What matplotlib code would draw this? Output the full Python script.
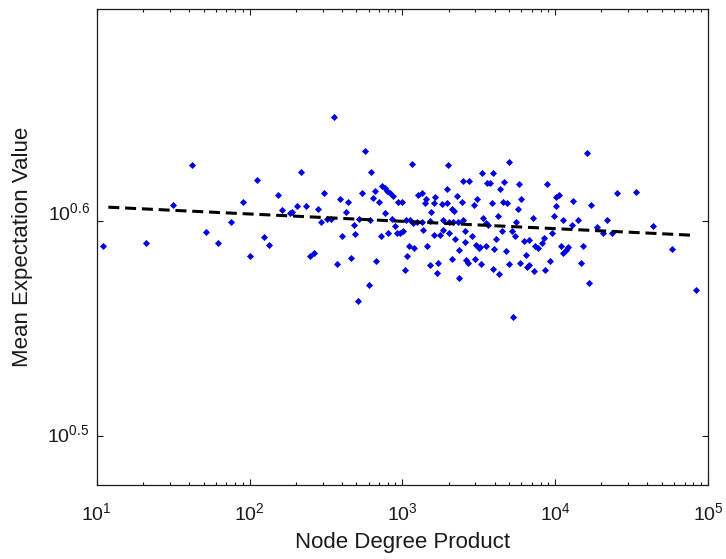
import matplotlib
matplotlib.use("Agg")
import matplotlib.pyplot as plt
from matplotlib.ticker import LogLocator, NullFormatter, FixedLocator, FixedFormatter
from matplotlib.transforms import ScaledTranslation

plt.rcParams['font.family'] = ['Liberation Sans', 'DejaVu Sans']
plt.rcParams['mathtext.fontset'] = 'custom'
plt.rcParams['mathtext.rm'] = 'Liberation Sans'

# Node degree product (x) and mean expectation value (y)
degree = [11.05, 20.92, 31.7, 41.8, 51.6, 62.4, 75.9, 90.1, 100.2, 111.3,
          123.7, 134.5, 152.7, 162.9, 184.6, 189.4, 205.1, 217.8,
          233.9, 248.3, 263.7, 282.2, 294.4, 307.5, 322.2, 340.7, 358.1, 372.9,
          390.1, 405.1, 424.0, 441.6, 460.6, 481.8, 490.6, 511.7, 545.9, 570.2,
          521.9, 613.1, 606.7, 619.4, 646.1, 662.8, 673.9, 705.1, 720.1,
          731.1, 768.5, 795.5, 828.4, 863.0,
          768.5, 807.5, 850.1, 893.3, 916.4, 962.9, 938.6, 988.1, 1012, 1031,
          1054, 1075, 1103, 1119, 1149, 1177, 1195, 1239, 1269,
          1993, 4950, 3311, 3907, 2498, 2735, 3553, 3734, 4632, 5754,
          1963, 4341, 1336, 1425, 1397, 1639, 1614, 2262, 3057, 2935,
          2461, 3848, 4521, 4846, 5984, 1805, 1946, 2107, 2172, 5718,
          1543, 4193, 7104, 1336, 1513, 1849, 2024, 2149, 2317, 2498,
          3346, 3516, 3640, 5524, 1356, 1849, 2024, 2563, 4454, 5178,
          5442, 1607, 1759, 2215, 2848, 4087, 2551, 6232, 6689, 1440,
          3025, 3150, 3212, 3516, 3984, 7388, 7695, 2352, 4752, 6422,
          2117, 2602, 2694, 2966, 1699, 1513, 3246, 4994, 5868, 6750,
          6549, 1674, 3907, 4276, 7278, 2352,
          8810, 10040, 10600, 13090, 16020, 17020, 25410, 33500, 10140,
          9748, 11160, 13990, 12840, 9500, 18790, 21840, 20570, 23340,
          43290, 10880, 12030, 11680, 11260, 15220, 8386, 8137, 9220,
          8590, 14640, 16590, 58160, 83450, 5304]

expect = [3.879, 3.890, 4.052, 4.228, 3.937, 3.890, 3.978, 4.065, 3.837, 4.163,
          3.914, 3.883, 4.095, 4.029, 4.016, 4.023, 4.046, 4.196,
          4.047, 3.837, 3.848, 4.034, 3.980, 4.102, 3.991, 3.991, 4.451, 3.803,
          4.077, 3.919, 4.023, 4.065, 3.826, 3.966, 3.926, 3.656, 4.102, 4.291,
          3.991, 3.987, 3.717, 4.196, 4.084, 4.114, 3.814, 4.065, 3.919,
          4.137, 4.125, 4.114, 4.103, 4.092,
          4.016, 3.933, 3.991, 3.961, 3.933, 3.933, 4.065, 4.065, 3.941, 3.779,
          3.987, 3.837, 3.877, 3.987, 4.234, 3.973, 3.868, 3.980, 4.095,
          4.229, 4.242, 4.192, 4.192, 4.159, 4.159, 4.147, 4.147, 4.152, 4.143,
          4.121, 4.121, 4.103, 4.077, 4.059, 4.088, 4.059, 4.090, 4.077, 4.052,
          4.065, 4.059, 4.065, 4.059, 4.077, 4.055, 4.059, 4.034, 4.024, 4.034,
          4.023, 4.005, 3.997, 3.978, 3.981, 3.987, 3.980, 3.980, 3.980, 3.987,
          3.994, 3.975, 3.966, 3.980, 3.944, 3.944, 3.933, 3.940, 3.940, 3.941,
          3.918, 3.925, 3.925, 3.908, 3.918, 3.908, 3.895, 3.898, 3.902, 3.877,
          3.880, 3.868, 3.874, 3.877, 3.866, 3.877, 3.868, 3.861, 3.857, 3.839,
          3.822, 3.820, 3.806, 3.822, 3.809, 3.798, 3.803, 3.803, 3.809, 3.798,
          3.792, 3.768, 3.782, 3.763, 3.776, 3.748,
          4.146, 4.088, 4.095, 4.070, 4.286, 4.052, 4.103, 4.109, 4.047,
          4.004, 3.987, 3.987, 3.967, 3.930, 3.956, 3.987, 3.933, 3.930,
          3.961, 3.879, 3.874, 3.861, 3.847, 3.879, 3.909, 3.889, 3.814,
          3.779, 3.809, 3.728, 3.865, 3.700, 3.594]

# power-law fit line endpoints
fit_x = [11.91, 79770]
fit_y = [4.042, 3.922]

x_ticks = [1e1, 1e2, 1e3, 1e4, 1e5]
x_ticklabels = [r'$\mathdefault{10^{1}}$', r'$\mathdefault{10^{2}}$', r'$\mathdefault{10^{3}}$',
                r'$\mathdefault{10^{4}}$', r'$\mathdefault{10^{5}}$']
y_ticks = [10 ** 0.5, 10 ** 0.6]
y_ticklabels = [r'$\mathdefault{10^{0.5}}$', r'$\mathdefault{10^{0.6}}$']

fig = plt.figure(figsize=(7.26, 5.59), dpi=100)
ax = fig.add_axes([0.1332, 0.1324, 0.8424, 0.8515])

ax.scatter(degree, expect, marker='D', s=13, color='#0000e6', linewidths=0, zorder=3)
ax.plot(fit_x, fit_y, color='black', lw=2.2, dashes=(3.6, 1.9), zorder=4)

ax.set_xscale('log')
ax.set_yscale('log')
ax.set_xlim(10, 1e5)
ax.set_ylim(3, 5)

ax.xaxis.set_major_locator(FixedLocator(x_ticks))
ax.xaxis.set_major_formatter(FixedFormatter(x_ticklabels))
ax.xaxis.set_minor_locator(LogLocator(base=10, subs=range(2, 10)))
ax.xaxis.set_minor_formatter(NullFormatter())
ax.yaxis.set_major_locator(FixedLocator(y_ticks))
ax.yaxis.set_major_formatter(FixedFormatter(y_ticklabels))
ax.yaxis.set_minor_locator(FixedLocator([]))

ax.tick_params(which='both', direction='in', top=True, right=True,
               labelsize=14, colors='#1a1a1a', labelcolor='#1a1a1a')
ax.tick_params(which='major', length=4, width=0.8)
ax.tick_params(axis='x', which='major', pad=12.5)
ax.tick_params(axis='y', which='major', pad=5)
ax.tick_params(which='minor', length=2.5, width=0.8)
for sp in ax.spines.values():
    sp.set_color('#1a1a1a')
    sp.set_linewidth(0.9)

ax.set_xlabel('Node Degree Product', fontsize=16, color='#1a1a1a')
ax.xaxis.set_label_coords(0.5, -0.098)
ax.set_ylabel('Mean Expectation Value', fontsize=16, color='#1a1a1a')
ax.yaxis.set_label_coords(-0.104, 0.5)

# shift y tick labels up slightly (as in the reference)
fig.canvas.draw()
for tick, dy in zip(ax.yaxis.get_major_ticks(), [2.5, 10.0]):
    lab = tick.label1
    lab.set_transform(lab.get_transform() + ScaledTranslation(0, dy / 100.0, fig.dpi_scale_trans))

fig.savefig('out.png', dpi=100, facecolor='white')
